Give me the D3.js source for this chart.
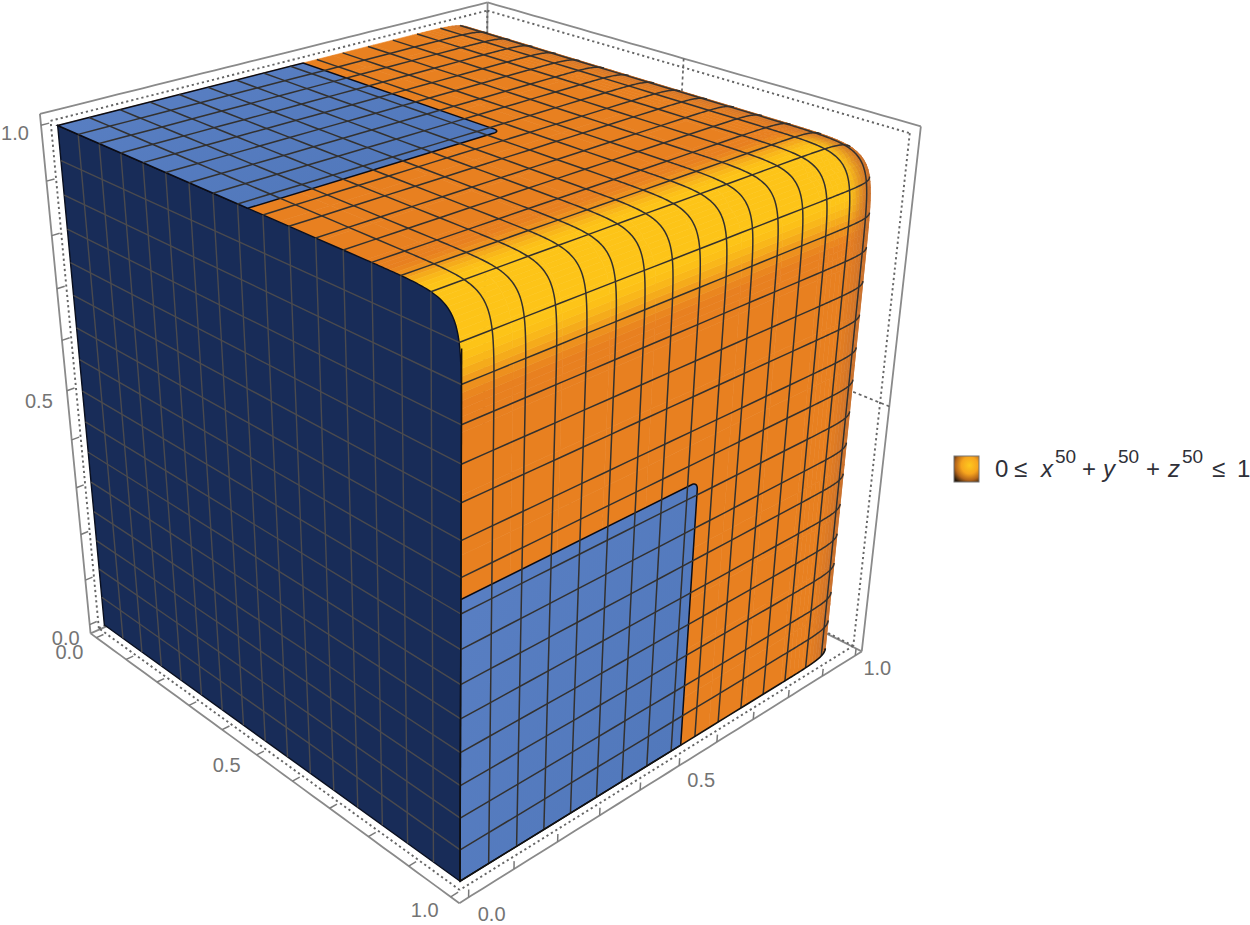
<!DOCTYPE html>
<html><head><meta charset="utf-8">
<script src="https://cdn.jsdelivr.net/npm/d3@7"></script>
<style>html,body{margin:0;background:#fff}svg{display:block;font-family:"Liberation Sans",Arial,sans-serif}</style>
</head><body><svg id="c" width="1250" height="925"></svg>
<script>
// ---------- values ----------
const meshLevels = [0.0625,0.125,0.1875,0.25,0.3125,0.375,0.4375,0.5,0.5625,0.625,0.6875,0.75,0.8125,0.875,0.9375];
const tickValues = [0,0.1,0.2,0.3,0.4,0.5,0.6,0.7,0.8,0.9,1];
const labelValues = [0,0.5,1];
const surfacePower = 30;          // rendered roundness of the x^50+y^50+z^50 = 1 surface
const blueExtentTop = [0.525,0.53];   // x, y limits of the blue patch on the top
const blueExtentSide = [0.525,0.525];  // y, z limits of the blue patch on the side
const legendParts = ["0","≤","x","50","+","y","50","+","z","50","≤","1"];
const legendKinds = [0,0,1,2,0,1,2,0,1,2,0,0];
const legendX = [995,1014,1041,1055,1082,1103,1118,1146,1168,1182,1212,1237];
// camera calibration: box coordinates and where they land in the picture
const calibWorld = [[-.02,-.02,1.02],[-.02,1.02,1.02],[1.02,1.02,1.02],[1.02,1.02,-.02],[1.02,-.02,-.02],[-.02,-.02,-.02],[0,0,0],[1,0,0],[0,0,1],[1,0,1]];
const calibImage = [[38,113],[488,3],[920,125],[862,652],[458,903],[90,633],[105,625],[461,881],[59,126],[463,303]];

// ---------- projection ----------
function solve(A,b){const n=b.length,M=A.map((r,i)=>[...r,b[i]]);
  for(let i=0;i<n;i++){let p=i;for(let k=i+1;k<n;k++)if(Math.abs(M[k][i])>Math.abs(M[p][i]))p=k;[M[i],M[p]]=[M[p],M[i]];
    for(let k=0;k<n;k++)if(k!==i){const f=M[k][i]/M[i][i];for(let j=i;j<=n;j++)M[k][j]-=f*M[i][j];}}
  return M.map((r,i)=>r[n]/r[i]);}
const rows=[],rhs=[];
calibWorld.forEach(([x,y,z],i)=>{const [u,v]=calibImage[i];
  rows.push([x,y,z,1,0,0,0,0,-u*x,-u*y,-u*z]);rhs.push(u);
  rows.push([0,0,0,0,x,y,z,1,-v*x,-v*y,-v*z]);rhs.push(v);});
const AtA=d3.range(11).map(i=>d3.range(11).map(j=>d3.sum(rows,r=>r[i]*r[j])));
const Atb=d3.range(11).map(i=>d3.sum(rows,(r,k)=>r[i]*rhs[k]));
const m=solve(AtA,Atb);
const proj=([x,y,z])=>{const w=m[8]*x+m[9]*y+m[10]*z+1;return [(m[0]*x+m[1]*y+m[2]*z+m[3])/w,(m[4]*x+m[5]*y+m[6]*z+m[7])/w];};
const cam=solve([[m[0],m[1],m[2]],[m[4],m[5],m[6]],[m[8],m[9],m[10]]],[-m[3],-m[7],-1]);

// ---------- surface ----------
const P=surfacePower;
const sstep=(a,b,t)=>{const s=Math.max(0,Math.min(1,(t-a)/(b-a)));return s*s*(3-2*s);};
const projBody=([x,y,z])=>proj([x,y-.018*sstep(.85,1,y),z]);
const normal=([x,y,z])=>[Math.pow(x,P-1),Math.pow(y,P-1),Math.pow(z,P-1)];
const facing=p=>{const n=normal(p);return n[0]*(cam[0]-p[0])+n[1]*(cam[1]-p[1])+n[2]*(cam[2]-p[2])>0;};
const onSurface=(a,b,c)=>{const k=Math.pow(Math.pow(a,P)+Math.pow(b,P)+Math.pow(c,P),-1/P);return [a*k,b*k,c*k];};
const orange=d3.rgb(232,128,32),yellow=d3.rgb(253,196,24),rim=d3.rgb(196,108,44);
function shade([x,y,z]){
  const t=sstep(.84,.93,Math.min(x,z))*(1-sstep(.87,.97,y));
  const r=sstep(.86,.97,y)*.85;
  return d3.interpolateRgb(d3.interpolateRgb(orange,yellow)(t),rim)(r);
}
const breaks=[...d3.range(0,.8,.1),...d3.range(.8,1.0001,.0125)];
const cells=[];
const patches=[(u,v)=>onSurface(u,1,v),(u,v)=>onSurface(1,u,v),(u,v)=>onSurface(u,v,1)];
patches.forEach(f=>{for(let i=0;i+1<breaks.length;i++)for(let j=0;j+1<breaks.length;j++){
  const a=breaks[i],b=breaks[i+1],c=breaks[j],d=breaks[j+1],mid=f((a+b)/2,(c+d)/2);
  if(!facing(mid))continue;
  cells.push({pts:[f(a,c),f(b,c),f(b,d),f(a,d)],color:shade(mid)});
}});

const svg=d3.select("#c");
const art=svg.append("g").style("filter","blur(0.35px)");
const line=d3.line();

// ---------- box ----------
function boxEdges(e){const a=-e,b=1+e;return [
 [[a,a,b],[a,b,b]],[[a,b,b],[b,b,b]],[[b,b,b],[b,b,a]],[[b,b,a],[b,a,a]],[[b,a,a],[a,a,a]],[[a,a,a],[a,a,b]],
 [[a,b,b],[a,b,a]],[[b,b,a],[a,b,a]],[[a,a,a],[a,b,a]]];}
const seg=(a,b,n=40)=>d3.range(n+1).map(i=>[0,1,2].map(k=>a[k]+(b[k]-a[k])*i/n));
art.append("g").selectAll("path").data(boxEdges(.02)).join("path")
  .attr("d",d=>line(seg(d[0],d[1]).map(proj))).attr("fill","none").attr("stroke","#8a8a8a").attr("stroke-width",1.8);
art.append("g").selectAll("path").data(boxEdges(.008)).join("path")
  .attr("d",d=>line(seg(d[0],d[1]).map(proj))).attr("fill","none").attr("stroke","#666").attr("stroke-width",1.9).attr("stroke-dasharray","2.2 3");
// ticks
const tk=.016;
const tickSegs=[];
tickValues.forEach(t=>{
  tickSegs.push([[-.02,-.02,t],[-.02,-.02+tk,t]]);
  tickSegs.push([[t,-.02,-.02],[t,-.02+tk,-.02]]);
  tickSegs.push([[1.02,t,-.02],[1.02,t,-.02+tk]]);
});
art.append("g").selectAll("path").data(tickSegs).join("path")
  .attr("d",d=>line(d.map(proj))).attr("stroke","#7a7a7a").attr("stroke-width",1.5).attr("fill","none");
// back grid stubs
const backStubs=[[[.5,1.02,1.02],[.5,1.02,.9]],[[1.02,1.02,.5],[.9,1.02,.5]]];
art.append("g").selectAll("path").data(backStubs).join("path")
  .attr("d",d=>line(d.map(proj))).attr("stroke","#666").attr("stroke-width",1.7).attr("stroke-dasharray","3 3").attr("fill","none");

// ---------- orange body ----------
art.append("g").selectAll("path").data(cells).join("path")
  .attr("d",d=>line(d.pts.map(projBody))+"Z").attr("fill",d=>d.color).attr("stroke",d=>d.color).attr("stroke-width",.6);

// ---------- dark cut face y = 0 ----------
// one quarter of the section a^P + b^P = R^P, from (0,R) to (R,0), dense around the bend
const levelR=c=>Math.pow(1-Math.pow(c,P),1/P);
function arc(R){
  const k=Math.pow(2,-1/P),s=[...d3.range(0,.8,.05),...d3.range(.8,k,.004),k];
  const half=s.map(t=>[R*t,R*Math.pow(1-Math.pow(t,P),1/P)]);
  return [...half,...half.slice(0,-1).reverse().map(([a,b])=>[b,a])];
}
const darkPts=[[0,0,0],...arc(1).map(([a,b])=>[a,0,b])];
art.append("path").attr("d",line(darkPts.map(proj))+"Z").attr("fill","#182c58").attr("stroke","#0a0f1e").attr("stroke-width",1.4);
const darkLines=[];
meshLevels.forEach(c=>{const R=levelR(c);
  darkLines.push([[c,0,0],[c,0,R]]);darkLines.push([[0,0,c],[R,0,c]]);});
art.append("g").selectAll("path").data(darkLines).join("path")
  .attr("d",d=>line(seg(d[0],d[1],4).map(proj))).attr("fill","none").attr("stroke","#4a4a4e").attr("stroke-width",1.4);

// ---------- blue patches ----------
const round=.014;
function corner(a,b,n=8){return d3.range(n+1).map(i=>{const th=i/n*Math.PI/2;return [a-round+round*Math.cos(th),b-round+round*Math.sin(th)];});}
const bluePolys=[
  [[0,0,1],[blueExtentTop[0],0,1],...corner(...blueExtentTop).map(([a,b])=>[a,b,1]),[0,blueExtentTop[1],1]].map(([a,b,c])=>onSurface(a,b,c)),
  [[1,0,0],[1,blueExtentSide[0],0],...corner(...blueExtentSide).map(([a,b])=>[1,a,b]),[1,0,blueExtentSide[1]]].map(([a,b,c])=>onSurface(a,b,c))
];
const gid=art.append("defs").append("linearGradient").attr("id","bl").attr("x1",0).attr("y1",0).attr("x2",1).attr("y2",1);
gid.append("stop").attr("offset",0).attr("stop-color","#5a80c4");gid.append("stop").attr("offset",1).attr("stop-color","#4f76b9");
art.append("g").selectAll("path").data(bluePolys).join("path")
  .attr("d",d=>line(d.map(proj))+"Z").attr("fill","url(#bl)").attr("stroke","#0c0c14").attr("stroke-width",1.5);

// ---------- mesh lines on the surface ----------
const meshCurves=[];
function addFamily(map,c){const R=levelR(c);meshCurves.push(arc(R).map(([a,b])=>map(c,a,b)));}
meshLevels.forEach(c=>{
  addFamily((c,a,b)=>[c,a,b],c);   // x = c
  addFamily((c,a,b)=>[a,c,b],c);   // y = c
  addFamily((c,a,b)=>[a,b,c],c);   // z = c
});
const meshLine=d3.line().defined(d=>d.v).x(d=>d.p[0]).y(d=>d.p[1]);
art.append("g").selectAll("path").data(meshCurves).join("path")
  .attr("d",d=>meshLine(d.map(q=>({p:projBody(q),v:facing(q)}))))
  .attr("fill","none").attr("stroke","#33312f").attr("stroke-width",1.5).attr("stroke-linejoin","round");
// bottom outline of the body
art.append("path").attr("d",meshLine(arc(1).map(([a,b])=>[b,a,0]).filter(q=>q[0]>.9).map(q=>({p:projBody(q),v:facing(q)}))))
  .attr("fill","none").attr("stroke","#111").attr("stroke-width",1.6);
art.append("path").attr("d",line([[1,0,0],[1,0,.93]].map(proj))).attr("fill","none").attr("stroke","#111").attr("stroke-width",1.4);

// ---------- tick labels ----------
const fmt=d3.format(".1f");
const zDx=d3.scaleLinear([0,.5,1],[-24,-28,-26]), zDy=d3.scaleLinear([0,1],[13,8]);
const xDx=d3.scaleLinear([0,.5,1],[-27,-30,-26]), xDy=d3.scaleLinear([0,.5,1],[14,10,13]);
const yDx=d3.scaleLinear([0,.5,1],[23,22,22]), yDy=d3.scaleLinear([0,.5,1],[16,14,12]);
const labels=[];
labelValues.forEach(t=>{
  const a=proj([-.02,-.02,t]);labels.push({t,x:a[0]+zDx(t),y:a[1]+zDy(t)});
  const b=proj([t,-.02,-.02]);labels.push({t,x:b[0]+xDx(t),y:b[1]+xDy(t)});
  const c=proj([1.02,t,-.02]);labels.push({t,x:c[0]+yDx(t),y:c[1]+yDy(t)});
});
svg.append("g").selectAll("text").data(labels).join("text")
  .attr("x",d=>d.x).attr("y",d=>d.y).attr("dy","0.36em").attr("text-anchor","middle")
  .attr("font-size",20).attr("fill","#747474").text(d=>fmt(d.t));

// ---------- legend ----------
const rg=svg.append("defs").append("radialGradient").attr("id","sw").attr("cx",.62).attr("cy",.36).attr("r",.78);
[[0,"#fdc81e"],[.42,"#f7a51d"],[.72,"#b5661a"],[1,"#2a1a0c"]].forEach(([o,c])=>rg.append("stop").attr("offset",o).attr("stop-color",c));
svg.append("rect").attr("x",954).attr("y",456).attr("width",25).attr("height",26).attr("fill","url(#sw)").attr("stroke","#777").attr("stroke-width",1);
svg.append("g").selectAll("text").data(legendParts).join("text")
  .attr("x",(d,i)=>legendX[i]).attr("y",(d,i)=>legendKinds[i]===2?463:477)
  .attr("font-size",(d,i)=>legendKinds[i]===2?19:24).attr("font-style",(d,i)=>legendKinds[i]===1?"italic":"normal")
  .attr("fill","#2f3038").text(d=>d);
</script></body></html>
